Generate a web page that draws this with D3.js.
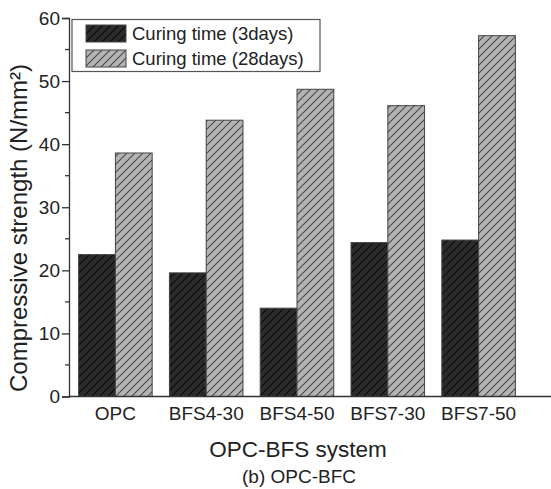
<!DOCTYPE html>
<html><head><meta charset="utf-8">
<script src="https://cdn.jsdelivr.net/npm/d3@7"></script>
<style>body{margin:0;background:#fff}svg{display:block;font-family:"Liberation Sans",Arial,sans-serif}</style>
</head><body><svg id="c" width="551" height="489"></svg>
<script>
const categories = ["OPC","BFS4-30","BFS4-50","BFS7-30","BFS7-50"];
const series = ["Curing time (3days)","Curing time (28days)"];
const days3 = [22.5, 19.6, 14.0, 24.4, 24.8];
const days28 = [38.6, 43.8, 48.7, 46.1, 57.2];
const yTicks = [0,10,20,30,40,50,60];

const svg = d3.select("#c");
const defs = svg.append("defs");
function hatch(id, bg, fg){
  const p = defs.append("pattern").attr("id",id).attr("patternUnits","userSpaceOnUse")
    .attr("width",8).attr("height",8);
  p.append("rect").attr("width",8).attr("height",8).attr("fill",bg);
  p.append("path").attr("d","M-2,2 L2,-2 M0,8 L8,0 M6,10 L10,6")
    .attr("stroke",fg).attr("stroke-width",1.1);
}
hatch("hd","#2b2b2b","#0a0a0a");
hatch("hl","#b3b3b3","#4a4a4a");

const x0 = 69, yTop = 18, yBot = 396.5;
const x = d3.scaleBand().domain(categories).range([70,524]).paddingInner(0.19).paddingOuter(0.095);
const xs = d3.scaleBand().domain(series).range([0,x.bandwidth()]);
const y = d3.scaleLinear().domain([0,60]).range([yBot,yTop]);

const data = [days3, days28];
const fills = ["url(#hd)","url(#hl)"];
series.forEach((s,si)=>{
  svg.append("g").selectAll("rect").data(categories).join("rect")
    .attr("x",c=>x(c)+xs(s)).attr("width",xs.bandwidth())
    .attr("y",(c,i)=>y(data[si][i])).attr("height",(c,i)=>yBot-y(data[si][i]))
    .attr("fill",fills[si]).attr("stroke","#444").attr("stroke-width",1);
});

// y axis
const ya = svg.append("g").attr("transform",`translate(${x0},0)`)
  .call(d3.axisLeft(y).tickValues(yTicks).tickSize(7).tickPadding(2).tickFormat(d3.format("d")));
ya.select(".domain").attr("stroke","#333").attr("stroke-width",1.3);
ya.selectAll(".tick line").attr("stroke","#333").attr("stroke-width",1.3);
ya.selectAll(".tick text").attr("font-size",19).attr("fill","#222").attr("font-family","Liberation Sans, Arial, sans-serif");
// minor ticks
svg.append("g").selectAll("line").data(d3.range(5,60,10)).join("line")
  .attr("x1",x0-4).attr("x2",x0).attr("y1",d=>y(d)).attr("y2",d=>y(d)).attr("stroke","#333").attr("stroke-width",1.3);

// x axis
const xa = svg.append("g").attr("transform",`translate(0,${yBot})`)
  .call(d3.axisBottom(x).tickSize(0).tickPadding(10));
xa.select(".domain").remove();
xa.selectAll(".tick text").attr("font-size",19).attr("fill","#222").attr("font-family","Liberation Sans, Arial, sans-serif");
svg.append("line").attr("x1",x0).attr("x2",551).attr("y1",yBot).attr("y2",yBot).attr("stroke","#333").attr("stroke-width",1.3);

// titles
svg.append("text").attr("transform","translate(27,228) rotate(-90)").attr("text-anchor","middle")
  .attr("font-size",24).attr("fill","#222").text("Compressive strength (N/mm²)");
svg.append("text").attr("x",298).attr("y",456.5).attr("text-anchor","middle").attr("font-size",22.5).attr("fill","#222").text("OPC-BFS system");
svg.append("text").attr("x",299).attr("y",483).attr("text-anchor","middle").attr("font-size",19).attr("fill","#222").text("(b) OPC-BFC");

// legend
const lg = svg.append("g");
lg.append("rect").attr("x",72).attr("y",19.5).attr("width",248).attr("height",52).attr("fill","#fff").attr("stroke","#555").attr("stroke-width",1.2);
series.forEach((s,i)=>{
  lg.append("rect").attr("x",86).attr("y",25+i*25).attr("width",40).attr("height",17).attr("fill",fills[i]).attr("stroke","#444");
  lg.append("text").attr("x",132).attr("y",40+i*25).attr("font-size",18.5).attr("fill","#222").text(s);
});
</script></body></html>
